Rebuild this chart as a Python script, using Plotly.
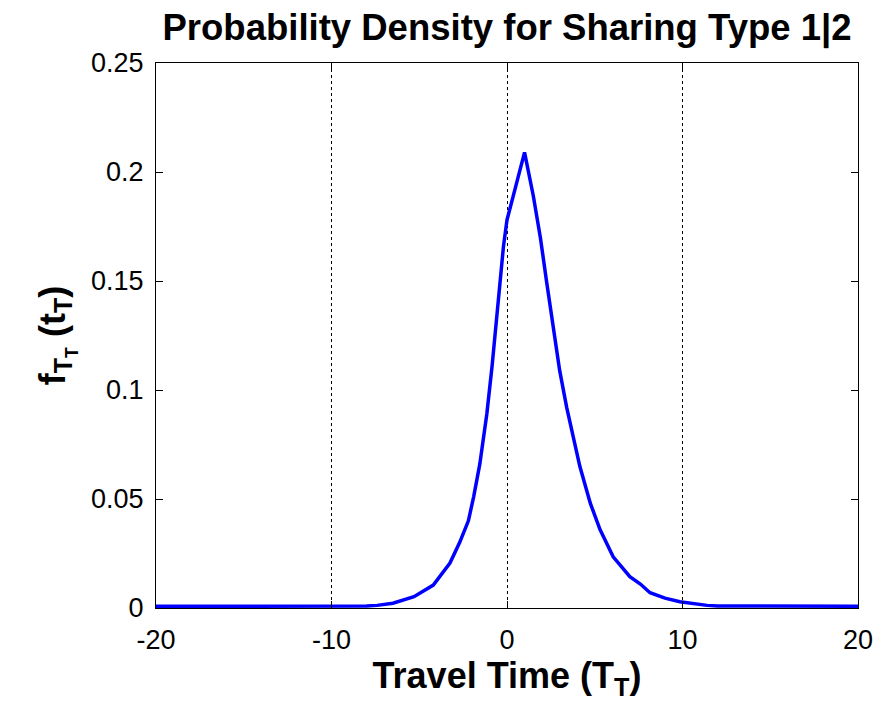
import plotly.graph_objects as go

# Travel-time density curve (sampled points)
travel_time = [-20, -12, -8, -7.4, -6.5, -5.3, -4.2, -3.25, -2.7, -2.2, -1.9, -1.55,
               -1.15, -0.85, -0.65, -0.45, -0.2, 0, 0.5, 1.0, 1.5, 1.9, 2.25, 2.65,
               3.0, 3.4, 3.8, 4.15, 4.75, 5.3, 6.05, 7.0, 7.6, 8.15, 9.0, 9.85,
               11.4, 12, 20]
density = [0.0008, 0.0008, 0.0009, 0.0012, 0.0022, 0.0052, 0.0105, 0.0206, 0.030,
           0.040, 0.051, 0.066, 0.089, 0.111, 0.128, 0.146, 0.166, 0.178, 0.193,
           0.209, 0.189, 0.170, 0.150, 0.129, 0.109, 0.092, 0.077, 0.065, 0.048,
           0.036, 0.0235, 0.0144, 0.0110, 0.0070, 0.0045, 0.0029, 0.0012, 0.0009,
           0.0008]

x_ticks = [-20, -10, 0, 10, 20]
y_ticks = [0, 0.05, 0.1, 0.15, 0.2, 0.25]
y_tick_text = ["0", "0.05", "0.1", "0.15", "0.2", "0.25"]

fig = go.Figure()
fig.add_trace(go.Scatter(
    x=travel_time, y=density, mode="lines",
    line=dict(color="rgb(0,0,255)", width=3.5),
    showlegend=False, hoverinfo="skip",
))

tick_font = dict(family="Liberation Sans, Arial, sans-serif", size=27, color="black")
label_font = dict(family="Liberation Sans, Arial, sans-serif", size=36, color="black")

fig.update_layout(
    width=875, height=704,
    margin=dict(l=156, r=17, t=63, b=96, autoexpand=False),
    paper_bgcolor="white", plot_bgcolor="white",
    title=dict(
        text="<b>Probability Density for Sharing Type 1|2</b>",
        x=0.5, xref="paper", xanchor="center",
        y=0.962, yref="container", yanchor="middle",
        font=dict(family="Liberation Sans, Arial, sans-serif", size=36.5, color="black"),
    ),
    xaxis=dict(
        range=[-20, 20], tickvals=x_ticks, ticktext=[str(v) for v in x_ticks],
        ticks="inside", ticklen=7, tickcolor="black", tickwidth=1,
        showline=True, linecolor="black", linewidth=1, mirror="ticks",
        showgrid=True, gridcolor="black", griddash="dot", gridwidth=1,
        zeroline=False, tickfont=tick_font, ticklabelstandoff=8, automargin=False,
        title=dict(text="<b>Travel Time (T<sub>T</sub>)</b>", font=label_font, standoff=4),
    ),
    yaxis=dict(
        range=[0, 0.25], tickvals=y_ticks, ticktext=y_tick_text,
        ticks="inside", ticklen=7, tickcolor="black", tickwidth=1,
        showline=True, linecolor="black", linewidth=1, mirror="ticks",
        showgrid=False, zeroline=False, tickfont=tick_font, ticklabelstandoff=6,
        automargin=False,
        title=dict(text="<b>f<sub>T<sub>T</sub></sub> (t<sub>T</sub>)</b>", font=label_font, standoff=14),
    ),
)

fig.write_html("out.html")
